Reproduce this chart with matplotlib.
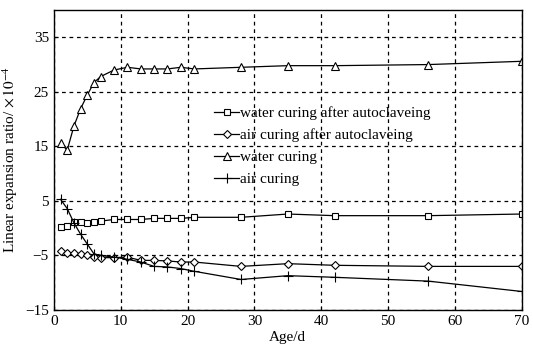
import matplotlib
matplotlib.use("Agg")
import matplotlib.pyplot as plt

plt.rcParams['font.family'] = ['Liberation Serif', 'DejaVu Serif']
plt.rcParams['mathtext.fontset'] = 'stix'

# ages (d)
age = [1, 2, 3, 4, 5, 6, 7, 9, 11, 13, 15, 17, 19, 21, 28, 35, 42, 56, 70]

water_auto = [0.3, 0.4, 1.2, 1.2, 1.0, 1.2, 1.3, 1.6, 1.6, 1.6, 1.8, 1.8, 1.8, 2.0, 2.0, 2.6, 2.3, 2.3, 2.6]
air_auto = [-4.1, -4.5, -4.5, -4.7, -5.0, -5.3, -5.4, -5.4, -5.3, -5.9, -5.9, -6.0, -6.2, -6.2, -7.0, -6.5, -6.8, -7.0, -7.0]
water = [15.6, 14.3, 18.7, 21.9, 24.4, 26.7, 27.8, 29.0, 29.5, 29.2, 29.2, 29.2, 29.5, 29.2, 29.5, 29.8, 29.8, 30.0, 30.6]
air = [5.3, 3.6, 1.0, -1.1, -2.9, -4.7, -5.0, -5.3, -5.7, -6.2, -7.0, -7.1, -7.4, -7.9, -9.4, -8.7, -9.0, -9.7, -11.6]

labels = ["water curing after autoclaveing", "air curing after autoclaveing",
          "water curing", "air curing"]

fig = plt.figure(figsize=(5.33, 3.58), dpi=100)
ax = fig.add_axes([0.101, 0.134, 0.878, 0.838])

kw = dict(color='black', linewidth=0.9, markerfacecolor='white', markeredgewidth=0.8)
ax.plot(age, water_auto, marker='s', markersize=5, label=labels[0], **kw)
ax.plot(age, air_auto, marker='D', markersize=4, label=labels[1], **kw)
ax.plot(age, water, marker='^', markersize=5.5, label=labels[2], **kw)
ax.plot(age, air, marker='+', markersize=7, label=labels[3], **kw)

ax.set_xlim(0, 70)
ax.set_ylim(-15, 40)
ax.set_xticks(range(0, 71, 10))
ax.set_yticks([-15, -5, 5, 15, 25, 35])
ax.set_yticklabels(['\u221215', '\u22125', '5', '15', '25', '35'])
ax.grid(True, color='black', linestyle=(0, (3, 3)), linewidth=0.9)
ax.tick_params(direction='in', labelsize=11, length=3)
for s in ax.spines.values():
    s.set_linewidth(1.0)

ax.set_xlabel("Age/d", fontsize=11, labelpad=2)
ax.set_ylabel(r"Linear expansion ratio/ $\times\,10^{-4}$", fontsize=11, labelpad=4)

ax.legend(loc='upper left', bbox_to_anchor=(0.33, 0.70), frameon=False,
          fontsize=11, handlelength=1.6, handletextpad=0.1,
          labelspacing=0.55, borderaxespad=0)

fig.savefig("out.png", dpi=100)
plt.close(fig)
